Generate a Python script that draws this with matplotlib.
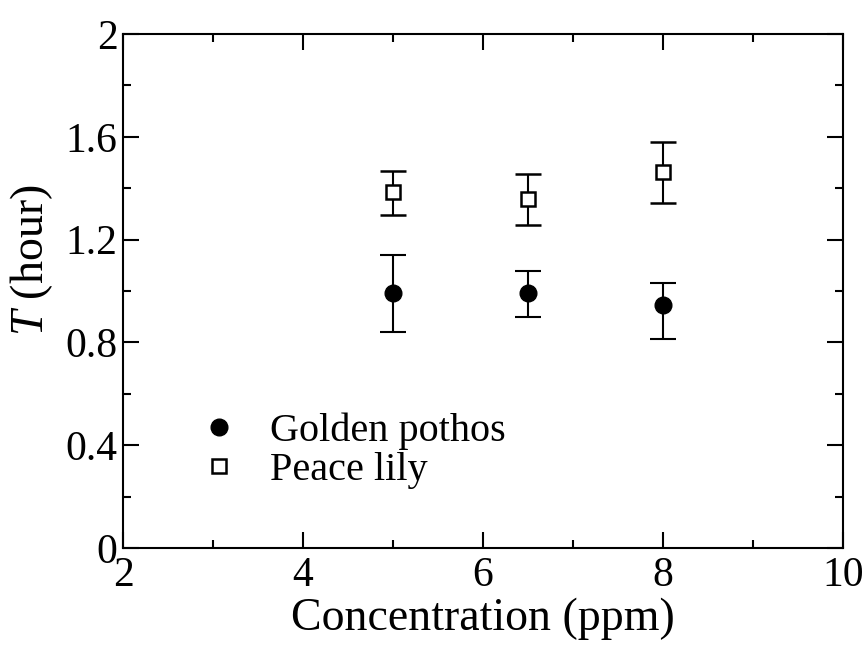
import matplotlib
matplotlib.use("Agg")
import matplotlib.pyplot as plt
from matplotlib.ticker import MultipleLocator
from matplotlib.lines import Line2D

plt.rcParams['font.family'] = ['Liberation Serif', 'DejaVu Serif']
plt.rcParams['mathtext.fontset'] = 'custom'
plt.rcParams['mathtext.it'] = 'Liberation Serif:italic'
plt.rcParams['mathtext.rm'] = 'Liberation Serif'

conc = [5.0, 6.5, 8.0]
golden = [0.991, 0.991, 0.946]
golden_lo = [0.839, 0.898, 0.812]
golden_hi = [1.139, 1.077, 1.031]
peace = [1.387, 1.359, 1.462]
peace_lo = [1.297, 1.256, 1.341]
peace_hi = [1.468, 1.457, 1.580]
series_names = ['Golden pothos', 'Peace lily']

fig = plt.figure(figsize=(8.67, 6.5), dpi=100)
ax = fig.add_axes([0.1419, 0.1569, 0.8304, 0.7908])

g_err = [[v - lo for v, lo in zip(golden, golden_lo)], [hi - v for v, hi in zip(golden, golden_hi)]]
p_err = [[v - lo for v, lo in zip(peace, peace_lo)], [hi - v for v, hi in zip(peace, peace_hi)]]

ax.errorbar(conc, golden, yerr=g_err, fmt='o', color='black', markersize=12,
            ecolor='black', elinewidth=1.5, capsize=9.5, capthick=1.5)
ax.errorbar(conc, peace, yerr=p_err, fmt='s', color='black', markerfacecolor='white',
            markeredgecolor='black', markeredgewidth=1.8, markersize=10,
            ecolor='black', elinewidth=1.5, capsize=9.5, capthick=1.5, zorder=3)

ax.set_xlim(2, 10)
ax.set_ylim(0, 2)
ax.xaxis.set_minor_locator(MultipleLocator(1))
ax.yaxis.set_minor_locator(MultipleLocator(0.2))
ax.set_yticks([0, 0.4, 0.8, 1.2, 1.6, 2.0])
ax.set_yticklabels(['0', '0.4', '0.8', '1.2', '1.6', '2'])
ax.set_xticks([2, 4, 6, 8, 10])
ax.set_xticklabels(['2', '4', '6', '8', '10'])

ax.tick_params(which='both', direction='in', top=True, right=True, width=1.5, labelsize=30)
ax.tick_params(which='major', length=11.5)
ax.tick_params(axis='y', which='major', pad=4)
ax.tick_params(axis='x', which='major', pad=6)
ax.tick_params(which='minor', length=5.8)
for s in ax.spines.values():
    s.set_linewidth(1.5)

ax.set_xlabel('Concentration (ppm)', fontsize=33, labelpad=2)
ax.set_ylabel(r'$T$ (hour)', fontsize=33)
ax.yaxis.set_label_coords(-0.095, 0.56)

handles = [
    Line2D([], [], linestyle='none', marker='o', color='black', markersize=12),
    Line2D([], [], linestyle='none', marker='s', markerfacecolor='white',
           markeredgecolor='black', markeredgewidth=1.8, markersize=10),
]
ax.legend(handles, series_names, loc='center left', bbox_to_anchor=(0.1056, 0.189),
          frameon=False, fontsize=29, handlelength=1.0, handletextpad=0.75,
          labelspacing=0.03, borderaxespad=0, borderpad=0)

fig.savefig('out.png', dpi=100)
